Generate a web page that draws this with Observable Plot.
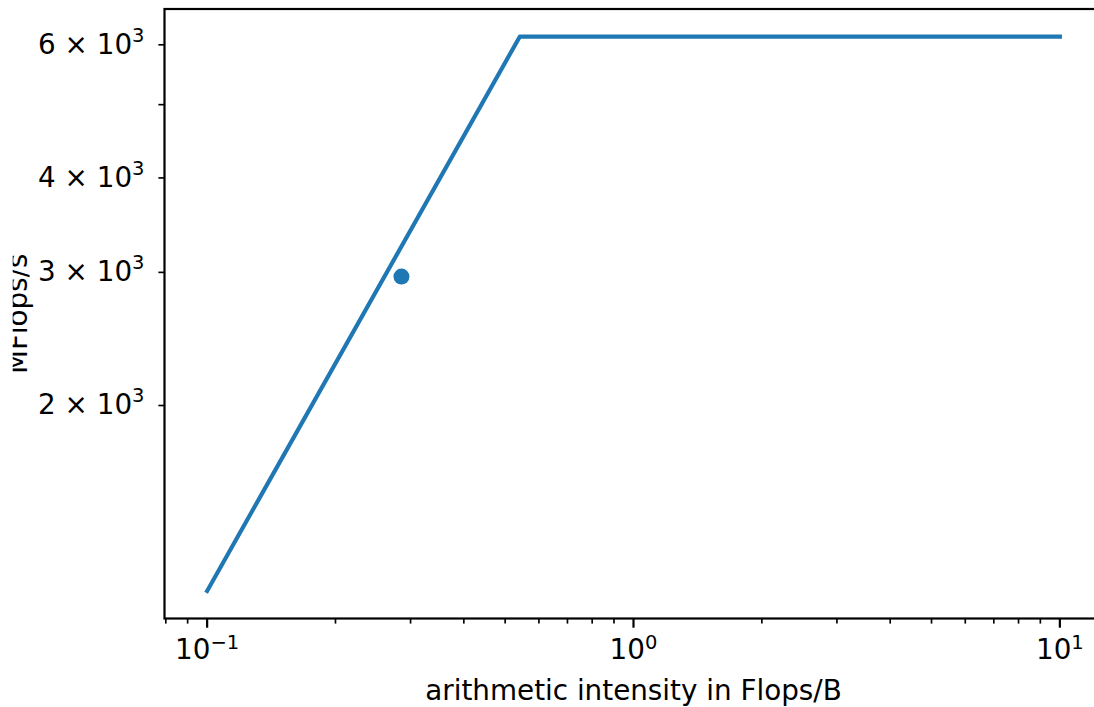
<!DOCTYPE html>
<html>
<head>
<meta charset="utf-8">
<script src="https://cdn.jsdelivr.net/npm/d3@7"></script>
<script src="https://cdn.jsdelivr.net/npm/@observablehq/plot@0.6"></script>
<style>
  html, body { margin: 0; padding: 0; background: #fff; }
  #chart svg { display: block; }
</style>
</head>
<body>
<div id="chart"></div>
<script>
// Roofline (memory-bound slope then compute ceiling)
const rooflineX = [0.1, 0.541, 10];
const rooflineY = [1137, 6150, 6150];
// Measured kernel
const measuredX = [0.2856];
const measuredY = [2962];

// Ticks
const xMajorTicks = [0.1, 1, 10];
const xMajorLabels = ["10^\u22121", "10^0", "10^1"];
const xMinorTicks = [0.08, 0.09, 0.2, 0.3, 0.4, 0.5, 0.6, 0.7, 0.8, 0.9, 2, 3, 4, 5, 6, 7, 8, 9];
const yTicks = [2000, 3000, 4000, 5000, 6000];
const yTickLabels = ["2 \u00d7 10^3", "3 \u00d7 10^3", "4 \u00d7 10^3", "", "6 \u00d7 10^3"];

const xLabel = "arithmetic intensity in Flops/B";
const yLabel = "MFlops/s";

const color = "#1f77b4";
const roofline = rooflineX.map((x, i) => ({x, y: rooflineY[i]}));
const measured = measuredX.map((x, i) => ({x, y: measuredY[i]}));

const svg = Plot.plot({
  width: 1094,
  height: 707,
  marginLeft: 164,
  marginRight: -8,
  marginTop: 8.5,
  marginBottom: 89,
  style: {fontFamily: "'DejaVu Sans', sans-serif", fontSize: "27.8px", background: "#fff", color: "#000"},
  x: {type: "log", domain: [Math.pow(10, -1.1), Math.pow(10, 1.1)], label: null},
  y: {type: "log", domain: [Math.pow(10, 3.0193), Math.pow(10, 3.8255)], label: null},
  marks: [
    Plot.line(roofline, {x: "x", y: "y", stroke: color, strokeWidth: 4.17, strokeLinecap: "square", strokeLinejoin: "round"}),
    Plot.dot(measured, {x: "x", y: "y", r: 8, fill: color, stroke: null}),
    Plot.axisX(xMinorTicks, {tickSize: 5.6, strokeWidth: 1.67, tickFormat: () => "", label: null}),
    Plot.axisX(xMajorTicks, {tickSize: 9.7, tickPadding: 10.6, strokeWidth: 2.2,
      tickFormat: d => xMajorLabels[xMajorTicks.indexOf(d)], label: null}),
    Plot.axisY(yTicks, {tickSize: 5.6, tickPadding: 14.4, strokeWidth: 1.67,
      tickFormat: d => yTickLabels[yTicks.indexOf(d)], label: null}),
    Plot.frame({stroke: "#000", strokeWidth: 2.2}),
    Plot.text([xLabel], {frameAnchor: "bottom", dy: 73, text: d => d, fontSize: 27.8,
      textAnchor: "middle", lineAnchor: "middle"}),
    Plot.text([yLabel], {frameAnchor: "left", rotate: -90, dx: -146.4, text: d => d, fontSize: 27.8,
      textAnchor: "middle", lineAnchor: "middle"})
  ]
});

const ns = "http://www.w3.org/2000/svg";

// Superscripts for mathtext-like tick labels
svg.querySelectorAll("text").forEach(t => {
  const s = t.textContent;
  const k = s.indexOf("^");
  if (k < 0) return;
  const isY = !!t.closest('g[aria-label="y-axis tick label"]');
  t.textContent = s.slice(0, k);
  const ts = document.createElementNS(ns, "tspan");
  ts.setAttribute("dy", isY ? "-12" : "-10");
  ts.setAttribute("font-size", "19.5");
  ts.textContent = s.slice(k + 1);
  t.appendChild(ts);
});

// The y label is partially cut off at the left edge in the reference
const defs = document.createElementNS(ns, "defs");
const cp = document.createElementNS(ns, "clipPath");
cp.setAttribute("id", "ylab-clip");
const rect = document.createElementNS(ns, "rect");
rect.setAttribute("x", "12.7"); rect.setAttribute("y", "0");
rect.setAttribute("width", "1100"); rect.setAttribute("height", "707");
cp.appendChild(rect); defs.appendChild(cp); svg.insertBefore(defs, svg.firstChild);
svg.querySelectorAll("text").forEach(t => {
  if (t.textContent === yLabel) {
    const g = t.parentNode;
    const wrap = document.createElementNS(ns, "g");
    wrap.setAttribute("clip-path", "url(#ylab-clip)");
    g.parentNode.insertBefore(wrap, g);
    wrap.appendChild(g);
  }
});

document.getElementById("chart").appendChild(svg);
</script>
</body>
</html>
